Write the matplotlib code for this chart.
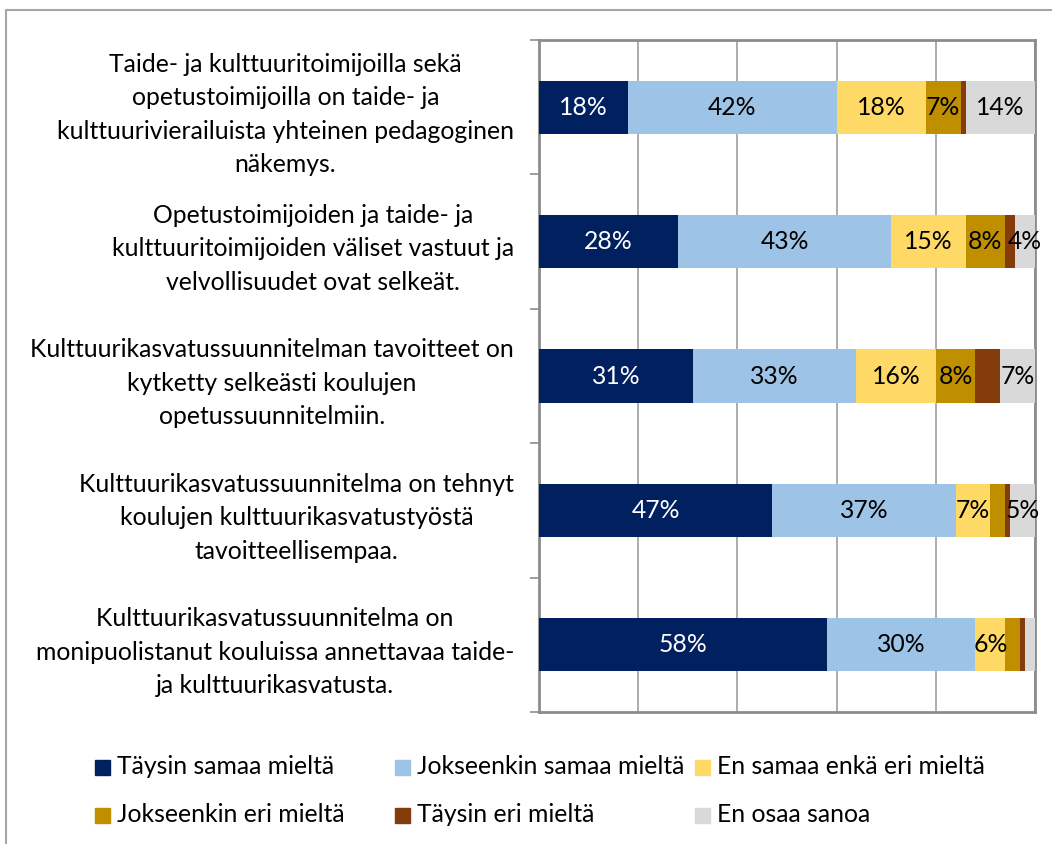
import matplotlib
matplotlib.use("Agg")
import matplotlib.pyplot as plt
from matplotlib.patches import Rectangle
from matplotlib.lines import Line2D
import numpy as np

plt.rcParams['font.family'] = ['Lato', 'DejaVu Sans']

statements = [
    "Taide- ja kulttuuritoimijoilla sekä\nopetustoimijoilla on taide- ja\nkulttuurivierailuista yhteinen pedagoginen\nnäkemys.",
    "Opetustoimijoiden ja taide- ja\nkulttuuritoimijoiden väliset vastuut ja\nvelvollisuudet ovat selkeät.",
    "Kulttuurikasvatussuunnitelman tavoitteet on\nkytketty selkeästi koulujen\nopetussuunnitelmiin.",
    "Kulttuurikasvatussuunnitelma on tehnyt\nkoulujen kulttuurikasvatustyöstä\ntavoitteellisempaa.",
    "Kulttuurikasvatussuunnitelma on\nmonipuolistanut kouluissa annettavaa taide-\nja kulttuurikasvatusta.",
]

series_names = [
    "Täysin samaa mieltä",
    "Jokseenkin samaa mieltä",
    "En samaa enkä eri mieltä",
    "Jokseenkin eri mieltä",
    "Täysin eri mieltä",
    "En osaa sanoa",
]

taysin_samaa = [18, 28, 31, 47, 58]
jokseenkin_samaa = [42, 43, 33, 37, 30]
ei_samaa_eika_eri = [18, 15, 16, 7, 6]
jokseenkin_eri = [7, 8, 8, 3, 3]
taysin_eri = [1, 2, 5, 1, 1]
en_osaa = [14, 4, 7, 5, 2]

colors = ["#002060", "#9DC3E6", "#FFD966", "#BF8F00", "#843C0C", "#D9D9D9"]
label_colors = ["white", "black", "black", "black", None, "black"]

W, H = 1052, 844
fig = plt.figure(figsize=(W / 100, H / 100), dpi=100)
ax = fig.add_axes([539 / W, 1 - 712 / H, (1035 - 539) / W, (712 - 40) / H])

data = [taysin_samaa, jokseenkin_samaa, ei_samaa_eika_eri,
        jokseenkin_eri, taysin_eri, en_osaa]
y = np.arange(len(statements))
left = np.zeros(len(statements))
for vals, col, lcol in zip(data, colors, label_colors):
    vals = np.array(vals, dtype=float)
    ax.barh(y, vals, left=left, height=0.395, color=col, zorder=3)
    if lcol is not None:
        for yi, (l, v) in enumerate(zip(left, vals)):
            if v >= 4:
                ax.text(l + v / 2, yi, f"{int(v)}%", ha="center", va="center",
                        fontsize=17.8, color=lcol, zorder=4)
    left += vals

ax.set_xlim(0, 100)
ax.set_ylim(len(statements) - 0.5, -0.5)
ax.set_xticks([0, 20, 40, 60, 80, 100])
ax.tick_params(axis="x", length=0, labelbottom=False)
ax.grid(axis="x", color="#A6A6A6", linewidth=1.3, zorder=0)

# boundary ticks, labels at the bar centres
ax.set_yticks(np.arange(len(statements) + 1) - 0.5)
ax.set_yticklabels([])
ax.tick_params(axis="y", which="major", length=6.5, width=1.2, color="#8C8C8C")
ax.set_yticks(y, minor=True)
ax.set_yticklabels(statements, minor=True, fontsize=17.8, linespacing=1.55,
                   multialignment="center")
ax.tick_params(axis="y", which="minor", length=0, pad=18)

for s in ax.spines.values():
    s.set_color("#8C8C8C")
    s.set_linewidth(2)

# outer chart border
fig.add_artist(Line2D([6 / W, 6 / W, 1], [0, 1 - 10 / H, 1 - 10 / H],
                      color="#A6A6A6", linewidth=1.5))

# legend, laid out in fixed-width columns
col_x = [95, 395, 695]
row_y = [767, 815]
for i, (name, col) in enumerate(zip(series_names, colors)):
    cx = col_x[i % 3]
    cy = row_y[i // 3]
    fig.add_artist(Rectangle((cx / W, 1 - (cy + 7.5) / H), 15 / W, 15 / H,
                             color=col, transform=fig.transFigure))
    fig.text((cx + 22) / W, 1 - cy / H, name, ha="left", va="center",
             fontsize=17.8)

fig.savefig("out.png", dpi=100)
